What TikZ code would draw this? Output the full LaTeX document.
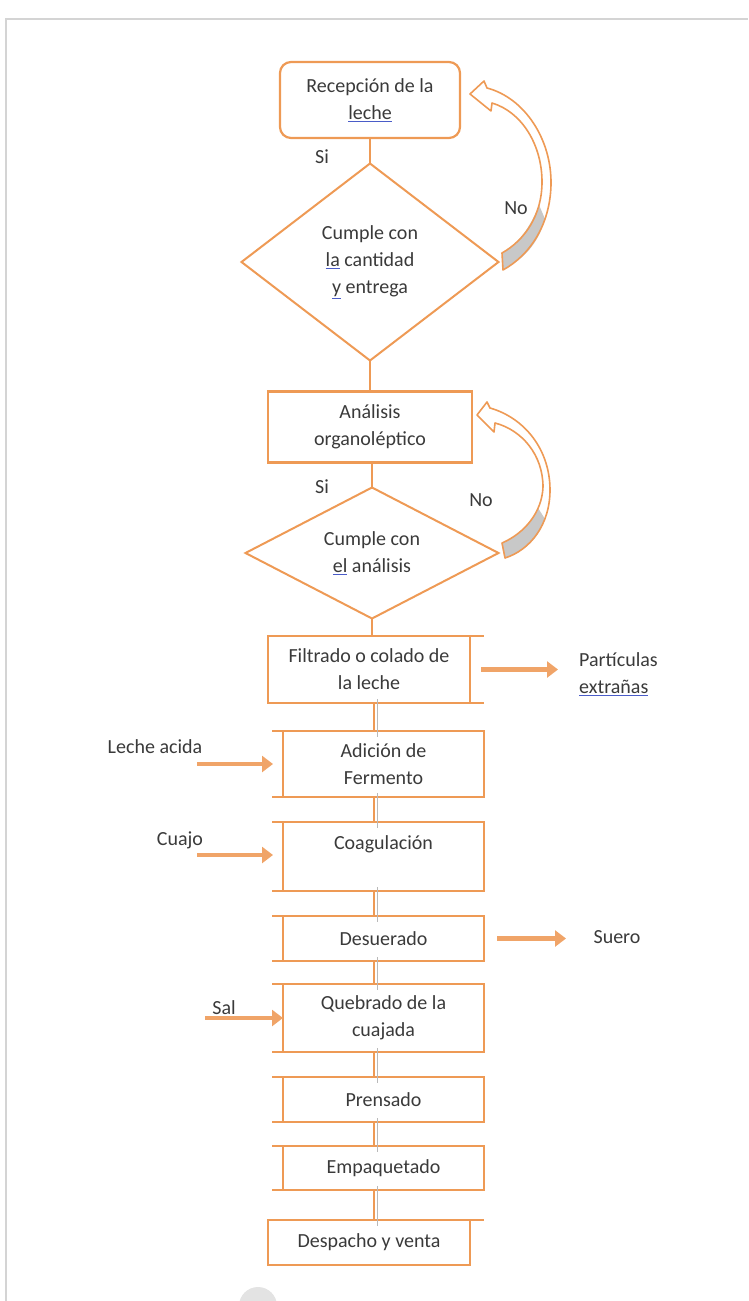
\documentclass[tikz,border=0pt]{standalone}
\usepackage{fontspec}
\setmainfont{Carlito}
\usetikzlibrary{shapes.geometric,arrows.meta,calc}
\definecolor{org}{HTML}{EE9A55}
\definecolor{arr}{HTML}{F0A468}
\definecolor{txt}{HTML}{3A3A3A}
\definecolor{spl}{HTML}{4A5CC8}
\definecolor{frm}{HTML}{D4D4D4}
\definecolor{cgray}{HTML}{C8C8C8}
\newcommand{\spellw}[1]{\textcolor{spl}{\underline{\textcolor{txt}{#1}}}}
\begin{document}
\begin{tikzpicture}[x=1pt,y=-1pt,
  every node/.style={font=\fontsize{20}{27}\selectfont, text=txt, align=center, inner sep=0pt},
  pbox/.style={draw=org, line width=2.2pt, rectangle, outer sep=0pt},
  rbox/.style={draw=org, line width=2.2pt, rectangle, rounded corners=11pt, outer sep=0pt},
  dbox/.style={draw=org, line width=2pt, diamond, outer sep=0pt},
  ext/.style={draw=org, line width=2.2pt},
  conn/.style={draw=org, line width=2.5pt},
  shd/.style={draw=gray!55, line width=1.2pt},
  fat/.style={draw=arr, line width=4.5pt, -{Triangle[length=11pt,width=16pt]}},
  curv/.style={draw=org, line width=1.6pt, line join=round}
]
\useasboundingbox (0,0) rectangle (748,1301);
% frame
\draw[frm, line width=1.5pt] (6,1301) -- (6,19) -- (748,19);
\fill[gray!22] (258,1306) circle (19);

% nodes
\node[rbox, minimum width=180pt, minimum height=76pt] (b1) at (370,100) {Recepción de la\\\spellw{leche}};
\node[dbox, minimum width=257pt, minimum height=197pt] (d1) at (370,262) {};
\node (t1) at (d1.center) {Cumple con\\\spellw{la} cantidad\\\spellw{y} entrega};
\node[pbox, minimum width=204pt, minimum height=71pt] (b2) at (370,427) {Análisis\\organoléptico};
\node[dbox, minimum width=253pt, minimum height=131pt] (d2) at (372,553) {};
\node (t2) at (d2.center) {Cumple con\\\spellw{el} análisis};
\node[pbox, minimum width=202pt, minimum height=67pt] (b3) at (369,669.5) {Filtrado o colado de\\la leche};
\node[pbox, minimum width=201pt, minimum height=66pt] (b4) at (383.5,764) {Adición de\\Fermento};
\node[pbox, minimum width=201pt, minimum height=69pt] (b5) at (383.5,856.5) {Coagulación\\\mbox{}};
\node[pbox, minimum width=201pt, minimum height=45pt] (b6) at (383.5,938.5) {Desuerado};
\node[pbox, minimum width=201pt, minimum height=68pt] (b7) at (383.5,1018) {Quebrado de la\\cuajada};
\node[pbox, minimum width=201pt, minimum height=45pt] (b8) at (383.5,1099.5) {Prensado};
\node[pbox, minimum width=201pt, minimum height=44pt] (b9) at (383.5,1168) {Empaquetado};
\node[pbox, minimum width=202pt, minimum height=45pt] (b10) at (369,1242.5) {Despacho y venta};

% box extensions
\draw[ext] (b3.north east) -- ++(14,0);
\draw[ext] (b3.south east) -- ++(14,0);
\foreach \b in {b4,b5,b6,b7,b8,b9}{
  \draw[ext] (\b.north west) -- ++(-11,0);
  \draw[ext] (\b.south west) -- ++(-11,0);
}
\draw[ext] (b10.north east) -- ++(14,0);

% labels
\node (si1) at (322,157) {Si};
\node (no1) at (516,208) {No};
\node (si2) at (322,487) {Si};
\node (no2) at (481,500) {No};
\node[anchor=west, align=left] (part) at (579,674) {Partículas\\\spellw{extrañas}};
\node (leche) at (155,747) {Leche acida};
\node (cuajo) at (180,840) {Cuajo};
\node (suero) at (617,937) {Suero};
\node (sal) at (224,1008) {Sal};

% connectors
\coordinate (sp) at (374,0);
\coordinate (sps) at (377.5,0);
\draw[conn] (b1.south) -- (d1.north);
\draw[conn] (d1.south) -- (b2.north);
\draw[conn] (d2.north |- b2.south) -- (d2.north);
\draw[conn] (d2.south) -- (d2.south |- b3.north);
\foreach \a/\c in {b3/b4,b4/b5,b5/b6,b6/b7,b7/b8,b8/b9,b9/b10}{
  \draw[shd] ([yshift=4pt]sps |- \a.south) -- ([yshift=-6pt]sps |- \c.north);
  \draw[conn] (sp |- \a.south) -- (sp |- \c.north);
}

% side arrows
\draw[fat] ([xshift=11pt]b3.east) -- ([xshift=88pt]b3.east);
\draw[fat] ([xshift=-86pt]b4.west) -- ([xshift=-10pt]b4.west);
\draw[fat] ([xshift=-86pt,yshift=1.5pt]b5.west) -- ([xshift=-10pt,yshift=1.5pt]b5.west);
\draw[fat] ([xshift=13pt]b6.east) -- ([xshift=82pt]b6.east);
\draw[fat] ([xshift=-78pt]b7.west) -- (b7.west);

% curved arrow 1 (No, back to reception)
\path[fill=white] (470,94) -- (484,81) -- (487,88) .. controls (525,98) and (552,140) .. (551,185) .. controls (550,225) and (530,255) .. (503,270) -- (502,253) .. controls (525,240) and (542,215) .. (542,182) .. controls (542,145) and (522,112) .. (492,103) -- (491,111) -- cycle;
\fill[cgray] (503,270) .. controls (522,260) and (538,245) .. (545,219) -- (539,205) .. controls (530,228) and (518,244) .. (502,253) -- cycle;
\draw[curv] (470,94) -- (484,81) -- (487,88) .. controls (525,98) and (552,140) .. (551,185) .. controls (550,225) and (530,255) .. (503,270) -- (502,253) .. controls (525,240) and (542,215) .. (542,182) .. controls (542,145) and (522,112) .. (492,103) -- (491,111) -- cycle;

% curved arrow 2 (No, back to analysis)
\path[fill=white] (477,415) -- (487,402) -- (490,408) .. controls (525,418) and (550,450) .. (550,490) .. controls (550,525) and (530,550) .. (505,558) -- (502,543) .. controls (525,533) and (542,512) .. (543,487) .. controls (543,455) and (522,430) .. (495,423) -- (494,432) -- cycle;
\fill[cgray] (505,558) .. controls (522,553) and (538,540) .. (545,519) -- (538,508) .. controls (530,525) and (518,537) .. (502,543) -- cycle;
\draw[curv] (477,415) -- (487,402) -- (490,408) .. controls (525,418) and (550,450) .. (550,490) .. controls (550,525) and (530,550) .. (505,558) -- (502,543) .. controls (525,533) and (542,512) .. (543,487) .. controls (543,455) and (522,430) .. (495,423) -- (494,432) -- cycle;
\end{tikzpicture}
\end{document}
